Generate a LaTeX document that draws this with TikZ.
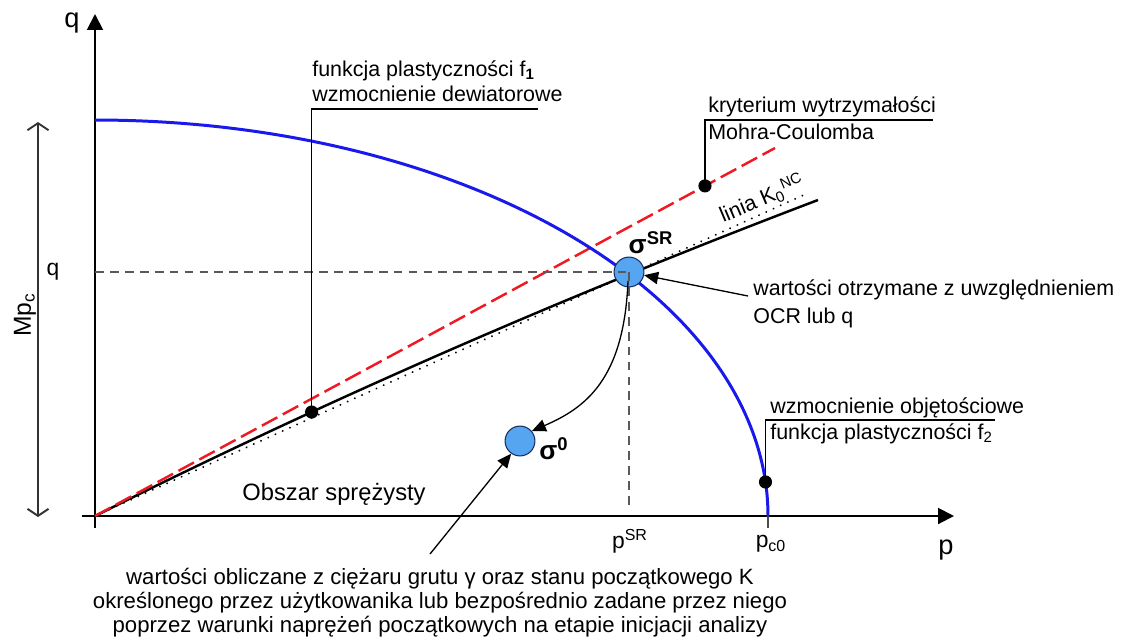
\documentclass[tikz,border=0pt]{standalone}
\usepackage{fontspec}
\setmainfont{Liberation Sans}
\usetikzlibrary{arrows.meta}
\definecolor{ycurve}{RGB}{25,25,235}
\definecolor{mcred}{RGB}{240,25,35}
\definecolor{ballblue}{RGB}{85,165,240}
\definecolor{balledge}{RGB}{25,45,95}
\begin{document}
\begin{tikzpicture}[x=0.02cm,y=-0.02cm,
  txt/.style={font=\fontsize{12.2}{14}\selectfont, inner sep=0pt, anchor=base west},
  bigtxt/.style={font=\fontsize{13}{15}\selectfont, inner sep=0pt},
  bottxt/.style={font=\fontsize{12.6}{15}\selectfont, inner sep=0pt, anchor=base},
  axisline/.style={line width=1.1pt, -{Triangle[length=9pt,width=9pt]}},
  yieldcurve/.style={ycurve, line width=1.7pt},
  mcline/.style={mcred, line width=1.4pt, dash pattern=on 10pt off 3.5pt},
  koline/.style={black, line width=1.4pt},
  dotline/.style={black, line width=1.2pt, dash pattern=on 0.01pt off 4.5pt, line cap=round},
  guide/.style={gray!70!black, line width=0.6pt, dash pattern=on 5pt off 3.5pt},
  leader/.style={black, line width=0.75pt},
  pin/.style={circle, fill=black, inner sep=0pt, minimum size=7.5pt},
  ball/.style={circle, fill=ballblue, draw=balledge, line width=0.6pt, inner sep=0pt, minimum size=17pt},
  arr/.style={black, line width=0.75pt, -{Triangle[length=8pt,width=7pt]}},
  sig/.style={font=\fontsize{15}{17}\selectfont\bfseries, inner sep=0pt},
]
\useasboundingbox (0,0) rectangle (1121,639);

% key coordinates
\coordinate (O) at (95,516);
\coordinate (qtop) at (95,14);
\coordinate (qbot) at (95,528);
\coordinate (pleft) at (82,516);
\coordinate (pright) at (954,516);
\coordinate (srC) at (629,272);
\coordinate (srS) at (628,281);
\coordinate (s0C) at (520,441);
\coordinate (qlev) at (95,272);
\coordinate (pSRfoot) at (629,510);
\coordinate (mcEnd) at (775,148);
\coordinate (koC1) at (324.3,401.3);
\coordinate (koC2) at (565.3,296);
\coordinate (koEnd) at (818,200);
\coordinate (dotEnd) at (808,193);
\coordinate (f1end) at (538,109);
\coordinate (mcLend) at (933,120);
\coordinate (f2end) at (995,420);
\coordinate (d3) at ({95+673*cos(4.93)},{516-396*sin(4.93)});
\coordinate (pc0) at (768,516);
\coordinate (pc0tick) at (768,528);
\coordinate (mtop) at (38,122);
\coordinate (mbot) at (38,517);
\coordinate (a1) at (748,296);
\coordinate (a2) at (430,554);

% axes
\draw[axisline] (qbot) -- (qtop);
\draw[axisline] (pleft) -- (pright);
\draw[gray!60!black, line width=0.6pt] (pc0) -- (pc0tick);

% left dimension arrow
\draw[line width=0.6pt, gray!40!black,
  {Straight Barb[length=4pt,width=12pt,line width=1.1pt]}-{Straight Barb[length=4pt,width=12pt,line width=1.1pt]}]
  (mtop) -- (mbot);

% lines
\draw[dotline] (O) -- (dotEnd);
\draw[koline] (O) .. controls (koC1) and (koC2) .. (koEnd) coordinate[pos=0.31] (d1);
\draw[mcline] (O) -- (mcEnd) coordinate[pos=0.897] (d2);
\draw[yieldcurve] plot[domain=0:90,samples=90,smooth] ({95+673*cos(\x)},{516-396*sin(\x)});

% states
\node[ball] (sr) at (srC) {};
\node[ball] (s0) at (s0C) {};
\draw[guide] (qlev) -- (srC);
\draw[guide] (srC) -- (pSRfoot);
\draw[arr] (srS) .. controls (624,380) and (585,408) .. (s0.40);
\draw[arr] (a1) -- (sr.-12);
\draw[arr] (a2) -- (s0.235);

% leaders
\draw[leader] (d1) |- (f1end);
\draw[leader] (d2) |- (mcLend);
\draw[leader] (d3) |- (f2end);
\node[pin] (p1) at (d1) {};
\node[pin] (p2) at (d2) {};
\node[pin] (p3) at (d3) {};

% texts
\node[txt] (t1) at (312,76) {funkcja plastyczności f\textsubscript{\textbf{1}}};
\node[txt] (t2) at (312,101) {wzmocnienie dewiatorowe};
\node[txt] (t3) at (708,112) {kryterium wytrzymałości};
\node[txt] (t4) at (708,139) {Mohra-Coulomba};
\node[txt] (t5) at (770,413) {wzmocnienie objętościowe};
\node[txt] (t6) at (770,439) {funkcja plastyczności f\textsubscript{2}};
\node[txt] (t7) at (753,295) {wartości otrzymane z uwzględnieniem};
\node[txt] (t8) at (753,323) {OCR lub q};
\node[txt, rotate=23] (k0) at (723,223) {linia K\textsubscript{0}\textsuperscript{NC}};

\node[sig] (srlab) at (651,243) {σ\textsuperscript{SR}};
\node[sig] (s0lab) at (554,449) {σ\textsuperscript{0}};

\node[font=\fontsize{15.5}{17}\selectfont, inner sep=0pt] (qlab) at (72,23) {q};
\node[font=\fontsize{15.5}{17}\selectfont, inner sep=0pt] (plab) at (946,550) {p};
\node[bigtxt] (qleft) at (53,272) {q};
\node[bigtxt, rotate=90, font=\fontsize{14}{16}\selectfont] (mpc) at (25,315) {Mp\textsubscript{c}};
\node[bigtxt] (psr) at (630,541) {p\textsuperscript{SR}};
\node[bigtxt] (pc0lab) at (771,544) {p\textsubscript{c0}};
\node[bigtxt, font=\fontsize{13.5}{15}\selectfont] (obs) at (334,494) {Obszar sprężysty};

\node[bottxt] (b1) at (440,584) {wartości obliczane z ciężaru grutu γ oraz stanu początkowego K};
\node[bottxt] (b2) at (440,608) {określonego przez użytkowanika lub bezpośrednio zadane przez niego};
\node[bottxt] (b3) at (440,632) {poprzez warunki naprężeń początkowych na etapie inicjacji analizy};
\end{tikzpicture}
\end{document}
